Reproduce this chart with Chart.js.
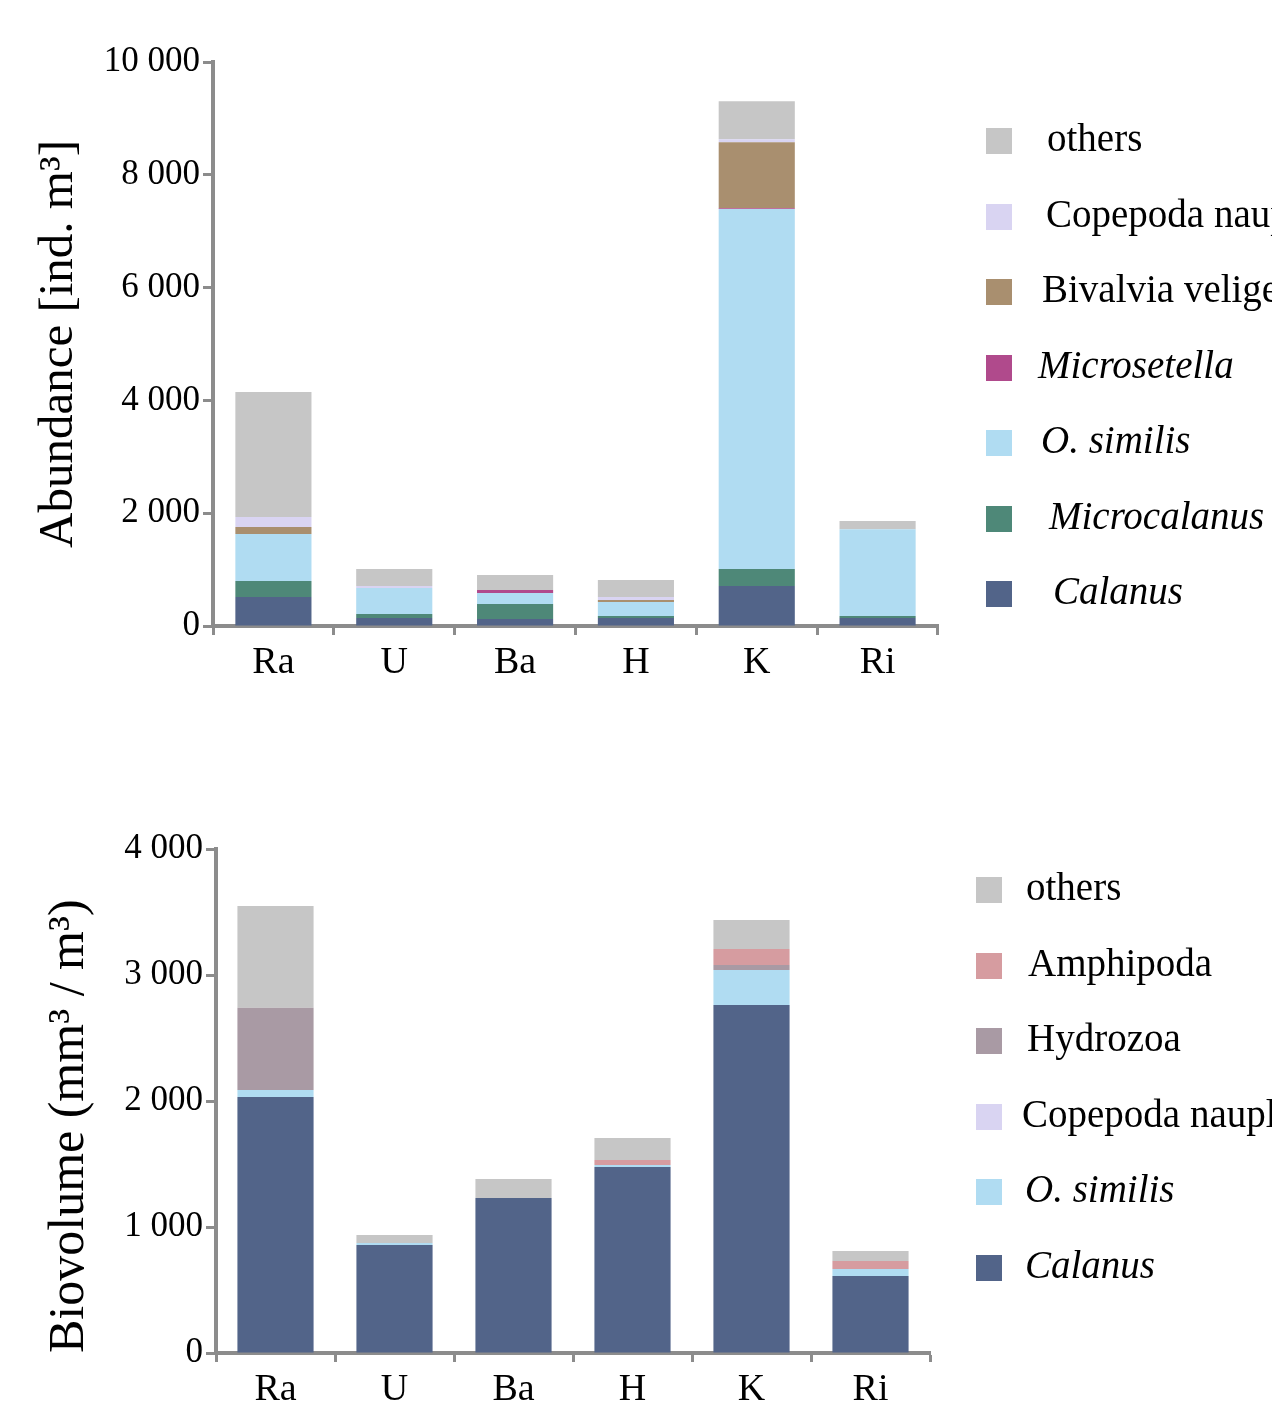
<!DOCTYPE html>
<html>
<head>
<meta charset="utf-8">
<title>Zooplankton abundance and biovolume by station</title>
<script src="https://cdn.jsdelivr.net/npm/chart.js@4/dist/chart.umd.min.js"></script>
<style>
  html, body { margin: 0; padding: 0; background: #fff; overflow: hidden; }
  #page { position: relative; width: 1272px; height: 1403px; overflow: hidden; background: #fff; }
  .panel { position: absolute; left: 0; width: 1272px; }
  #panelTop { top: 0; height: 700px; }
  #panelBottom { top: 700px; height: 760px; }
</style>
</head>
<body>
<div id="page">
  <div class="panel" id="panelTop"><canvas id="abundance"></canvas></div>
  <div class="panel" id="panelBottom"><canvas id="biovolume"></canvas></div>
</div>
<script>
// Stations
const stations = ['Ra', 'U', 'Ba', 'H', 'K', 'Ri'];

// Abundance [ind. m-3] per taxon
const abCalanus      = [514, 142, 124, 142, 709, 142];
const abMicrocalanus = [284, 71, 266, 35, 301, 35];
const abOsimilis     = [833, 461, 195, 248, 6383, 1539];
const abMicrosetella = [0, 0, 53, 0, 15, 0];
const abBivalvia     = [124, 0, 0, 35, 1170, 0];
const abNauplii      = [177, 35, 0, 53, 53, 0];
const abOthers       = [2216, 301, 266, 301, 674, 145];

// Biovolume [mm3 / m3] per taxon
const bvCalanus   = [2032, 857, 1230, 1476, 2762, 611];
const bvOsimilis  = [56, 16, 0, 16, 278, 56];
const bvNauplii   = [0, 0, 0, 0, 0, 0];
const bvHydrozoa  = [653, 0, 0, 0, 40, 0];
const bvAmphipoda = [0, 0, 0, 40, 127, 63];
const bvOthers    = [807, 63, 151, 175, 230, 79];

// Axis ticks
const abTicks = [0, 2000, 4000, 6000, 8000, 10000];
const bvTicks = [0, 1000, 2000, 3000, 4000];

// Palette
const C_CALANUS = '#526489';
const C_MICROCAL = '#4e8878';
const C_OSIM = '#b0dcf2';
const C_MICROSET = '#b04a8c';
const C_BIVALV = '#a98f6f';
const C_NAUP = '#d9d4f2';
const C_OTHERS = '#c6c6c6';
const C_HYDRO = '#a99aa4';
const C_AMPHI = '#d69ca0';
const AXIS = '#8c8c8c';
const SERIF = '"Liberation Serif", "Times New Roman", serif';

const fmtThousands = v => String(v).replace(/\B(?=(\d{3})+(?!\d))/g, ' ');

function ds(label, data, color, italic) {
  return { label, data, backgroundColor: color, borderWidth: 0, italicLabel: !!italic };
}

// Legend drawn to the right of the plot, top entry = top of the stack
const sideLegend = {
  id: 'sideLegend',
  afterDraw(chart, args, opts) {
    const ctx = chart.ctx;
    const sets = chart.data.datasets;
    ctx.save();
    const order = sets.map((_, i) => i).reverse();
    order.forEach((idx, row) => {
      const d = sets[idx];
      const cy = opts.y0 + row * opts.step;
      ctx.fillStyle = d.backgroundColor;
      ctx.fillRect(opts.x, Math.round(cy - opts.box / 2), opts.box, opts.box);
      ctx.fillStyle = '#000';
      ctx.textAlign = 'left';
      ctx.textBaseline = 'alphabetic';
      ctx.font = (d.italicLabel ? 'italic ' : '') + opts.size + 'px ' + SERIF;
      ctx.fillText(d.label, opts.textX[row], cy + opts.dy);
    });
    ctx.restore();
  }
};

function axisCommon() {
  return {
    grid: { drawOnChartArea: false, drawTicks: true, tickColor: AXIS, tickWidth: 3, color: AXIS },
    border: { display: true, color: AXIS, width: 4 }
  };
}

function makeChart(id, cfg) {
  const xa = axisCommon();
  const ya = axisCommon();
  return new Chart(document.getElementById(id), {
    type: 'bar',
    data: { labels: stations, datasets: cfg.datasets },
    options: {
      responsive: true,
      maintainAspectRatio: false,
      animation: false,
      events: [],
      layout: { padding: cfg.padding },
      datasets: { bar: { barPercentage: cfg.barPct, categoryPercentage: 1 } },
      plugins: {
        legend: { display: false },
        tooltip: { enabled: false },
        sideLegend: cfg.legend
      },
      scales: {
        x: {
          stacked: true,
          offset: true,
          grid: Object.assign({}, xa.grid, { offset: true, tickLength: 9 }),
          border: xa.border,
          ticks: { color: '#000', font: { family: SERIF, size: 38 }, padding: 5, maxRotation: 0 },
          afterFit(s) { s.height = 60; }
        },
        y: {
          stacked: true,
          min: 0,
          max: cfg.ticks[cfg.ticks.length - 1],
          afterBuildTicks(s) { s.ticks = cfg.ticks.map(v => ({ value: v })); },
          grid: Object.assign({}, ya.grid, { tickLength: 10 }),
          border: ya.border,
          ticks: { color: '#000', font: { family: SERIF, size: 35 }, padding: 3, callback: v => fmtThousands(v) },
          title: {
            display: true,
            text: cfg.yTitle,
            color: '#000',
            align: cfg.titleAlign,
            font: { family: SERIF, size: cfg.titleSize },
            padding: { top: cfg.titlePad, bottom: 0 }
          },
          afterFit(s) { s.width = cfg.yWidth; }
        }
      }
    },
    plugins: [sideLegend]
  });
}

makeChart('abundance', {
  datasets: [
    ds('Calanus', abCalanus, C_CALANUS, true),
    ds('Microcalanus', abMicrocalanus, C_MICROCAL, true),
    ds('O. similis', abOsimilis, C_OSIM, true),
    ds('Microsetella', abMicrosetella, C_MICROSET, true),
    ds('Bivalvia veliger', abBivalvia, C_BIVALV, false),
    ds('Copepoda nauplii', abNauplii, C_NAUP, false),
    ds('others', abOthers, C_OTHERS, false)
  ],
  ticks: abTicks,
  padding: { top: 62, left: 0, right: 334, bottom: 14 },
  barPct: 0.63,
  yWidth: 213,
  yTitle: 'Abundance [ind. m³]',
  titleAlign: 'center',
  titleSize: 49,
  titlePad: 30,
  legend: { x: 986, box: 26, y0: 141, step: 75.5, size: 39, dy: 10,
            textX: [1047, 1046, 1042, 1038, 1041, 1049, 1053] }
});

makeChart('biovolume', {
  datasets: [
    ds('Calanus', bvCalanus, C_CALANUS, true),
    ds('O. similis', bvOsimilis, C_OSIM, true),
    ds('Copepoda nauplii', bvNauplii, C_NAUP, false),
    ds('Hydrozoa', bvHydrozoa, C_HYDRO, false),
    ds('Amphipoda', bvAmphipoda, C_AMPHI, false),
    ds('others', bvOthers, C_OTHERS, false)
  ],
  ticks: bvTicks,
  padding: { top: 149, left: 0, right: 342, bottom: 47 },
  barPct: 0.64,
  yWidth: 216,
  yTitle: 'Biovolume (mm³ / m³)',
  titleAlign: 'start',
  titleSize: 50,
  titlePad: 40,
  legend: { x: 976, box: 26, y0: 190, step: 75.6, size: 39, dy: 10,
            textX: [1026, 1028, 1027, 1022, 1025, 1025] }
});
</script>
</body>
</html>
